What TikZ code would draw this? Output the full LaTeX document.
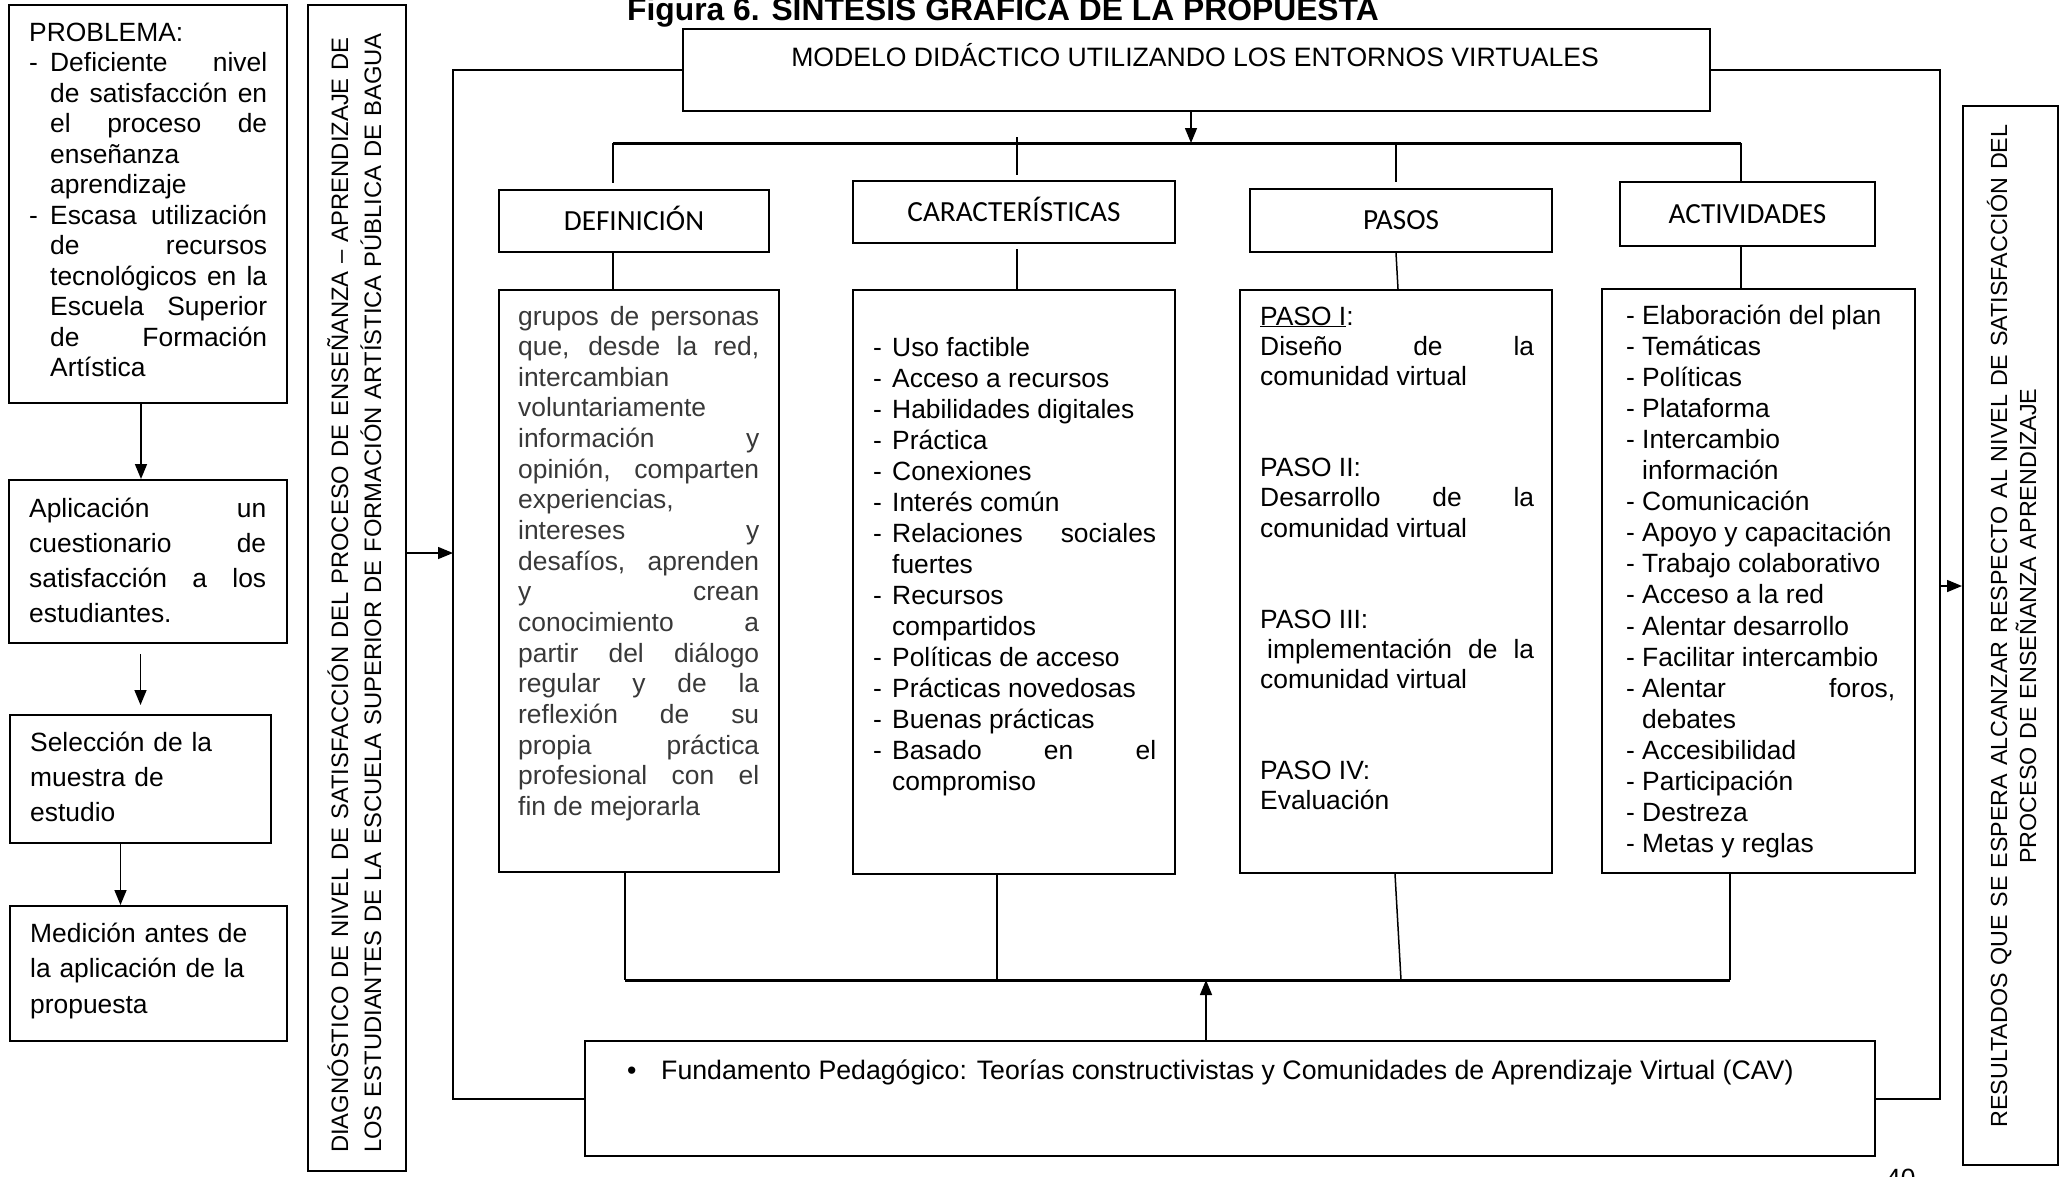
\documentclass[tikz,border=0pt]{standalone}
\usepackage{fontspec}
\setmainfont{Liberation Sans}
\newfontfamily\calibri{Carlito}
\usetikzlibrary{arrows.meta}
\newcommand{\itm}[2][19pt]{\noindent\hangindent=#1\hangafter=1\makebox[#1][l]{-}#2\par}

\begin{document}
\begin{tikzpicture}[x=1pt, y=-1pt,
    box/.style={draw, line width=2pt, inner sep=0pt, anchor=north west},
    head/.style={box, text height=18.8pt, text depth=0pt, font=\calibri\fontsize{29.2}{35}\selectfont},
    txt/.style={inner sep=0pt, anchor=base west, align=justify},
    link/.style={line width=1.5pt},
    bar/.style={line width=3pt},
    ringline/.style={line width=2pt},
    arr/.style={line width=1.5pt, -{Triangle[length=15pt,width=12pt]}}]
  \useasboundingbox (0,0) rectangle (2063,1176);

  \node[anchor=base west, inner sep=0pt, font=\bfseries\fontsize{31.8}{36}\selectfont] (title) at (627,20)
    {Figura 6. SÍNTESIS GRÁFICA DE LA PROPUESTA};

  \node[box, minimum width=278pt, minimum height=398pt] (prob) at (8,4) {};
  \node[txt, text width=238pt, font=\fontsize{26.4}{30.5}\selectfont] (probtxt) at (29,41)
    {PROBLEMA:\par\itm[21pt]{Deficiente nivel \linebreak de satisfacción en \linebreak el proceso de \linebreak enseñanza \linebreak aprendizaje}%
     \itm[21pt]{Escasa utilización \linebreak de recursos \linebreak tecnológicos en la \linebreak Escuela Superior \linebreak de Formación \linebreak Artística}};
  \node[box, minimum width=278pt, minimum height=163pt] (aplic) at (8,479) {};
  \node[txt, text width=237pt, font=\fontsize{26.4}{35}\selectfont] (aplictxt) at (29,517)
    {Aplicación un \linebreak cuestionario de \linebreak satisfacción a los \linebreak estudiantes.};
  \node[box, minimum width=261pt, minimum height=128pt] (selec) at (9,714) {};
  \node[txt, text width=235pt, align=left, font=\fontsize{26.4}{35}\selectfont] (selectxt) at (30,751)
    {Selección de la\\muestra de\\estudio};
  \node[box, minimum width=277pt, minimum height=135pt] (medic) at (9,905) {};
  \node[txt, text width=250pt, align=left, font=\fontsize{26.4}{35.5}\selectfont] (medictxt) at (30,942)
    {Medición antes de\\la aplicación de la\\propuesta};

  \node[box, minimum width=98pt, minimum height=1166pt] (diag) at (307,4) {};
  \node[rotate=90, anchor=base west, inner sep=0pt, text width=1160pt, align=left,
        font=\fontsize{23.8}{33}\selectfont] (diagtxt) at (348,1153)
    {DIAGNÓSTICO DE NIVEL DE SATISFACCIÓN DEL PROCESO DE ENSEÑANZA – APRENDIZAJE DE\\LOS ESTUDIANTES DE LA ESCUELA SUPERIOR DE FORMACIÓN ARTÍSTICA PÚBLICA DE BAGUA};

  \node[box, minimum width=1027pt, minimum height=82pt] (modelo) at (682,28) {};
  \node[anchor=base, inner sep=0pt, font=\fontsize{26.6}{30}\selectfont] (modelotxt) at (1195,66)
    {MODELO DIDÁCTICO UTILIZANDO LOS ENTORNOS VIRTUALES};

  \node[head, minimum width=270pt, minimum height=62pt] (defhd) at (498,189) {DEFINICIÓN};
  \node[head, minimum width=322pt, minimum height=62pt] (carhd) at (852,180) {CARACTERÍSTICAS};
  \node[head, minimum width=302pt, minimum height=63pt] (pashd) at (1249,188) {PASOS};
  \node[head, minimum width=255pt, minimum height=64pt] (acthd) at (1619,181) {ACTIVIDADES};

  \node[box, minimum width=280pt, minimum height=582pt] (defbox) at (498,289) {};
  \node[txt, text width=241pt, text=black!78, font=\fontsize{26.4}{30.66}\selectfont] (deftxt) at (518,325)
    {grupos de personas \linebreak que, desde la red, \linebreak intercambian \linebreak voluntariamente \linebreak
     información y \linebreak opinión, comparten \linebreak experiencias, \linebreak intereses y \linebreak
     desafíos, aprenden \linebreak y crean \linebreak conocimiento a \linebreak partir del diálogo \linebreak
     regular y de la \linebreak reflexión de su \linebreak propia práctica \linebreak profesional con el \linebreak
     fin de mejorarla};
  \node[box, minimum width=322pt, minimum height=584pt] (carbox) at (852,289) {};
  \node[txt, text width=283pt, font=\fontsize{26.4}{31}\selectfont] (cartxt) at (873,356)
    {\itm{Uso factible}\itm{Acceso a recursos}\itm{Habilidades digitales}\itm{Práctica}%
     \itm{Conexiones}\itm{Interés común}\itm{Relaciones sociales \linebreak fuertes}%
     \itm{Recursos \linebreak compartidos}\itm{Políticas de acceso}\itm{Prácticas novedosas}%
     \itm{Buenas prácticas}\itm{Basado en el \linebreak compromiso}};
  \node[box, minimum width=312pt, minimum height=583pt] (pasbox) at (1239,289) {};
  \node[txt, text width=274pt, font=\fontsize{26.4}{30.3}\selectfont] (pastxt) at (1260,325)
    {\underline{PASO I}:\par Diseño de la \linebreak comunidad virtual\par\vspace{60.6pt}
     PASO II:\par Desarrollo de la \linebreak comunidad virtual\par\vspace{60.6pt}
     PASO III:\par\hspace*{7pt}implementación de la \linebreak comunidad virtual\par\vspace{60.6pt}
     PASO IV:\par Evaluación};
  \node[box, minimum width=313pt, minimum height=584pt] (actbox) at (1601,288) {};
  \node[txt, text width=269pt, font=\fontsize{26.4}{31.1}\selectfont] (acttxt) at (1626,324)
    {\itm[16pt]{Elaboración del plan}\itm[16pt]{Temáticas}\itm[16pt]{Políticas}\itm[16pt]{Plataforma}%
     \itm[16pt]{Intercambio \linebreak información}\itm[16pt]{Comunicación}\itm[16pt]{Apoyo y capacitación}%
     \itm[16pt]{Trabajo colaborativo}\itm[16pt]{Acceso a la red}\itm[16pt]{Alentar desarrollo}%
     \itm[16pt]{Facilitar intercambio}\itm[16pt]{Alentar foros, \linebreak debates}\itm[16pt]{Accesibilidad}%
     \itm[16pt]{Participación}\itm[16pt]{Destreza}\itm[16pt]{Metas y reglas}};

  \node[box, minimum width=1290pt, minimum height=115pt] (fund) at (584,1040) {};
  \node[anchor=base west, inner sep=0pt, font=\fontsize{26.7}{30}\selectfont] (fundtxt) at (627,1079)
    {\makebox[34pt][l]{•}Fundamento Pedagógico: Teorías constructivistas y Comunidades de Aprendizaje Virtual (CAV)};

  \node[box, minimum width=95pt, minimum height=1059pt] (result) at (1962,105) {};
  \node[rotate=90, anchor=base, inner sep=0pt, text width=1100pt, align=center,
        font=\fontsize{23.3}{29}\selectfont] (resulttxt) at (2007,626)
    {RESULTADOS QUE SE ESPERA ALCANZAR RESPECTO AL NIVEL DE SATISFACCIÓN DEL\\PROCESO DE ENSEÑANZA APRENDIZAJE};

  \node[anchor=base west, inner sep=0pt, font=\fontsize{26.4}{30}\selectfont] (pagenum) at (1886,1187) {40};

  \draw[arr] ([xshift=-7pt]prob.south) -- ([xshift=-7pt]aplic.north);
  \draw[arr, shorten <=10pt, shorten >=9pt] (selec.north |- aplic.south) -- (selec.north);
  \draw[arr] ([xshift=-20pt]selec.south) -- ([xshift=-20pt]selec.south |- medic.north);

  \coordinate (brL) at (613,143);
  \coordinate (brC) at (1017,143);
  \coordinate (brM) at (1191,143);
  \coordinate (brP) at (1396,143);
  \coordinate (brA) at (1741,143);
  \draw[bar] (brL) -- (brA);
  \draw[arr] (modelo.south -| brM) -- (brM);
  \draw[link, shorten >=6pt] (brL) -- (brL |- defhd.north);
  \draw[link, shorten >=5pt] ([yshift=6pt]brC) -- (brC |- carhd.north);
  \draw[link, shorten >=6pt] (brP) -- (brP |- pashd.north);
  \draw[link] (brA) -- (brA |- acthd.north);
  \draw[link] (brL |- defhd.south) -- (brL |- defbox.north);
  \draw[link, shorten <=5pt] (brC |- carhd.south) -- (brC |- carbox.north);
  \draw[link] (brP |- pashd.south) -- ([xshift=2pt]brP |- pasbox.north);
  \draw[link] (brA |- acthd.south) -- (brA |- actbox.north);

  \coordinate (colL) at (625,980);
  \coordinate (colC) at (997,980);
  \coordinate (colF) at (1206,980);
  \coordinate (colP) at (1401,980);
  \coordinate (colR) at (1730,980);
  \draw[bar] (colL) -- (colR);
  \draw[link] (colL |- defbox.south) -- (colL);
  \draw[link] (colC |- carbox.south) -- (colC);
  \draw[link] ([xshift=-6pt]colP |- pasbox.south) -- (colP);
  \draw[link] (colR |- actbox.south) -- (colR);
  \draw[arr] (fund.north -| colF) -- (colF);

  \coordinate (loopL) at (453,600);
  \coordinate (loopR) at (1940,600);
  \draw[ringline] (modelo.west) -| (loopL) |- (fund.west);
  \draw[ringline] (modelo.east) -| (loopR) |- (fund.east);
  \coordinate (inL) at (453,553);
  \coordinate (outR) at (1940,586);
  \draw[arr] (diag.east |- inL) -- (inL);
  \draw[arr] (outR) -- (result.west |- outR);
\end{tikzpicture}
\end{document}
